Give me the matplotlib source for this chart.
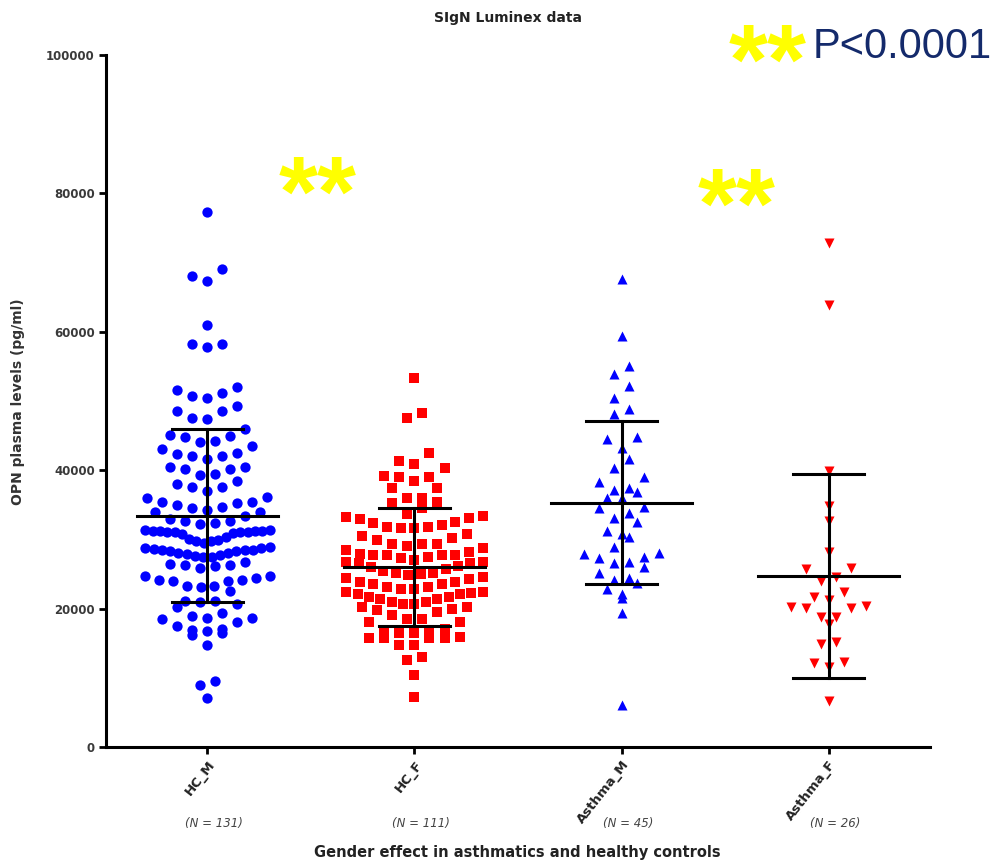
import numpy as np
import matplotlib
matplotlib.use("Agg")
import matplotlib.pyplot as plt
import matplotlib.transforms as mtransforms

plt.rcParams['font.family'] = ['DejaVu Sans']

# group labels and counts
groups = ['HC_M', 'HC_F', 'Asthma_M', 'Asthma_F']
n_labels = ['(N = 131)', '(N = 111)', '(N = 45)', '(N = 26)']

# OPN values (pg/ml, in thousands)
hc_m = [77.3, 69.1, 68.1, 67.3, 61.0, 58.2, 57.8, 58.2,
        52.0, 51.2, 50.4, 50.7, 51.6,
        48.6, 47.5, 47.4, 48.6, 49.3,
        45.9, 45.1, 44.8, 44.1, 44.2, 44.9,
        43.5, 43.1, 42.3, 42.1, 41.6, 42.1, 42.5,
        40.5, 40.2, 39.5, 38.4, 39.3, 40.2, 40.5, 38.0,
        37.6, 37.0, 37.6, 36.1,
        36.0, 35.4, 35.3, 34.7, 34.2, 34.0, 34.0, 34.5, 35.0, 35.4,
        33.4, 32.7, 32.2, 32.7, 32.9,
        31.3, 31.2, 31.1, 31.0, 30.8, 31.2, 31.2, 31.3, 30.9, 31.1, 31.1, 31.2,
        30.0, 29.7, 29.8, 29.9,
        28.9, 28.8, 28.6, 28.4, 28.3, 28.0, 27.7, 27.5, 27.4, 27.6, 27.9, 28.1,
        28.3, 28.4, 28.5, 28.8,
        26.5, 26.3, 25.9, 26.1, 26.3, 26.7,
        24.7, 24.7,
        24.2, 24.0, 23.3, 23.1, 22.6, 23.2, 24.0, 24.2, 24.4,
        21.1, 20.6, 20.3, 20.9, 21.1,
        19.4,
        18.9, 18.6, 18.1, 17.5, 18.5, 18.7,
        16.9, 16.7, 16.2, 17.0, 16.5,
        14.7,
        9.5, 9.0, 7.1,
        32.4, 30.4, 29.5]

hc_f = [53.3, 48.3, 47.5,
        42.5, 40.9, 41.3, 40.3, 39.2, 39.0, 38.4, 39.0, 37.4, 37.4, 35.4, 36.0,
        36.0, 35.3, 34.5,
        33.4, 33.1, 32.5, 32.1, 31.8, 31.6, 31.6, 31.8, 32.4, 32.9, 33.2, 33.7,
        30.2, 29.3, 29.3, 29.0, 29.3, 29.9, 28.8, 28.5, 27.7, 27.5, 27.7, 27.3,
        27.7, 27.7, 27.0, 26.7,
        26.7, 26.6, 25.1, 25.0, 24.9, 25.1, 25.7, 26.2, 26.6,
        24.4, 23.8, 23.6, 23.1, 22.8, 22.4, 22.3, 22.4, 22.8, 23.1, 23.6, 23.8, 24.3,
        22.1, 21.7, 21.4, 21.0, 20.7, 20.2, 19.8, 20.2, 20.7, 21.0, 21.4, 21.7, 22.1,
        19.5, 18.5, 18.1, 18.1, 18.5, 19.1,
        16.5, 15.8, 15.8, 14.7, 16.6, 15.8, 16.6, 14.7, 15.8, 15.9, 16.5,
        12.6, 13.0, 10.4, 7.2,
        30.5, 30.8, 28.2, 27.9, 26.0, 25.5, 24.6, 20.0, 17.0]

asthma_m = [67.6, 59.4, 55.1, 53.9, 52.2, 50.4, 48.8, 48.1, 44.8, 44.5,
            43.2, 41.6, 40.3, 39.0, 38.3, 37.4, 36.8, 37.1, 36.0, 36.0,
            34.5, 34.7, 33.1, 33.8, 32.5, 30.3, 31.2, 30.8, 28.0, 28.9,
            27.9, 27.5, 26.7, 27.3, 26.6, 26.0, 24.4, 24.1, 25.1, 23.7,
            22.8, 21.5, 22.1, 19.4, 6.1]

asthma_f = [72.8, 63.9, 39.9, 34.8, 32.7, 28.2, 25.9, 25.7, 24.0, 22.4,
            21.2, 21.7, 20.2, 20.1, 20.1, 20.4, 18.8, 18.8, 17.8, 14.9,
            15.2, 12.1, 12.3, 11.6, 6.6, 24.6]

# mean and SD drawn in the figure (thousands)
means = [33.4, 26.0, 35.3, 24.7]
sds = [12.5, 8.5, 11.8, 14.8]

data = [hc_m, hc_f, asthma_m, asthma_f]
markers = ['o', 's', '^', 'v']
colors = ['#0000ff', '#ff0000', '#0000ff', '#ff0000']
sizes = [55, 58, 52, 52]
row_heights = [2.0, 2.0, 2.0, 2.0]
half_widths = [0.30, 0.33, 0.18, 0.18]


def row_layout(vals, center, row_h, max_half, step=0.0725):
    # Prism style scatter: group close values into rows, lowest value in the middle
    vals = np.asarray(vals, dtype=float)
    xs = np.zeros_like(vals)
    order = np.argsort(-vals)
    rows = []
    for i in order:
        if rows and vals[rows[-1][0]] - vals[i] < row_h:
            rows[-1].append(i)
        else:
            rows.append([i])
    for idx in rows:
        idx = sorted(idx, key=lambda j: vals[j])
        n = len(idx)
        sp = step if n < 2 else min(step, 2 * max_half / (n - 1))
        for k, i in enumerate(idx):
            if n % 2:
                pos = ((k + 1) // 2) * (1 if k % 2 == 0 else -1)
            else:
                pos = (k // 2 + 0.5) * (-1 if k % 2 == 0 else 1)
            xs[i] = center + pos * sp
    return xs


fig = plt.figure(figsize=(10.03, 8.66), dpi=100)
ax = fig.add_axes([106 / 1003, 119 / 866, 824 / 1003, 692 / 866])

for i, vals in enumerate(data):
    xs = row_layout(vals, i, row_heights[i], half_widths[i])
    ax.scatter(xs, np.array(vals) * 1000, marker=markers[i], s=sizes[i],
               color=colors[i], linewidths=0, zorder=2)
    m = means[i] * 1000
    s = sds[i] * 1000
    ax.plot([i - 0.34, i + 0.34], [m, m], color='black', lw=2.2, zorder=3)
    ax.plot([i, i], [m - s, m + s], color='black', lw=2.2, zorder=3)
    ax.plot([i - 0.17, i + 0.17], [m + s, m + s], color='black', lw=2.2, zorder=3)
    ax.plot([i - 0.17, i + 0.17], [m - s, m - s], color='black', lw=2.2, zorder=3)

ax.set_xlim(-0.49, 3.49)
ax.set_ylim(0, 100000)
ax.set_yticks(np.arange(0, 100001, 20000))
ax.set_yticklabels([str(v) for v in range(0, 100001, 20000)],
                   fontsize=8.5, fontweight='bold', color='#3a3a3a')
ax.set_xticks(range(4))
ax.set_xticklabels(groups, rotation=52, ha='right', va='top',
                   rotation_mode='anchor', fontsize=9.5, fontweight='bold',
                   color='#222222')
for side in ['top', 'right']:
    ax.spines[side].set_visible(False)
for side in ['left', 'bottom']:
    ax.spines[side].set_linewidth(2.2)
ax.tick_params(direction='out', length=5, width=2, pad=3)

fig.text(18 / 1003, 1 - 402 / 866, 'OPN plasma levels (pg/ml)', rotation=90,
         ha='center', va='center', fontsize=10, fontweight='bold',
         color='#333333')

trans = mtransforms.blended_transform_factory(ax.transData, fig.transFigure)
for i, lab in enumerate(n_labels):
    ax.text(i + 0.03, 1 - 823 / 866, lab, transform=trans, ha='center',
            va='center', fontsize=8.5, style='italic', color='#444444')

fig.text(517 / 1003, 1 - 852 / 866,
         'Gender effect in asthmatics and healthy controls',
         ha='center', va='center', fontsize=10.5, fontweight='bold',
         color='#222222')
fig.text(508 / 1003, 1 - 18 / 866, 'SIgN Luminex data', ha='center',
         va='center', fontsize=10, fontweight='bold', color='#222222')

# significance marks
star = dict(ha='center', va='center', fontsize=72, fontweight='bold',
            color='#ffff00', family='Liberation Sans')
fig.text(318 / 1003, 1 - 200 / 866, '**', **star)
fig.text(737 / 1003, 1 - 212 / 866, '**', **star)
fig.text(768 / 1003, 1 - 68 / 866, '**', **star)
fig.text(813 / 1003, 1 - 47 / 866, 'P<0.0001', ha='left', va='center',
         fontsize=30, color='#142a6b', family='Liberation Sans')

fig.savefig('out.png', dpi=100)
